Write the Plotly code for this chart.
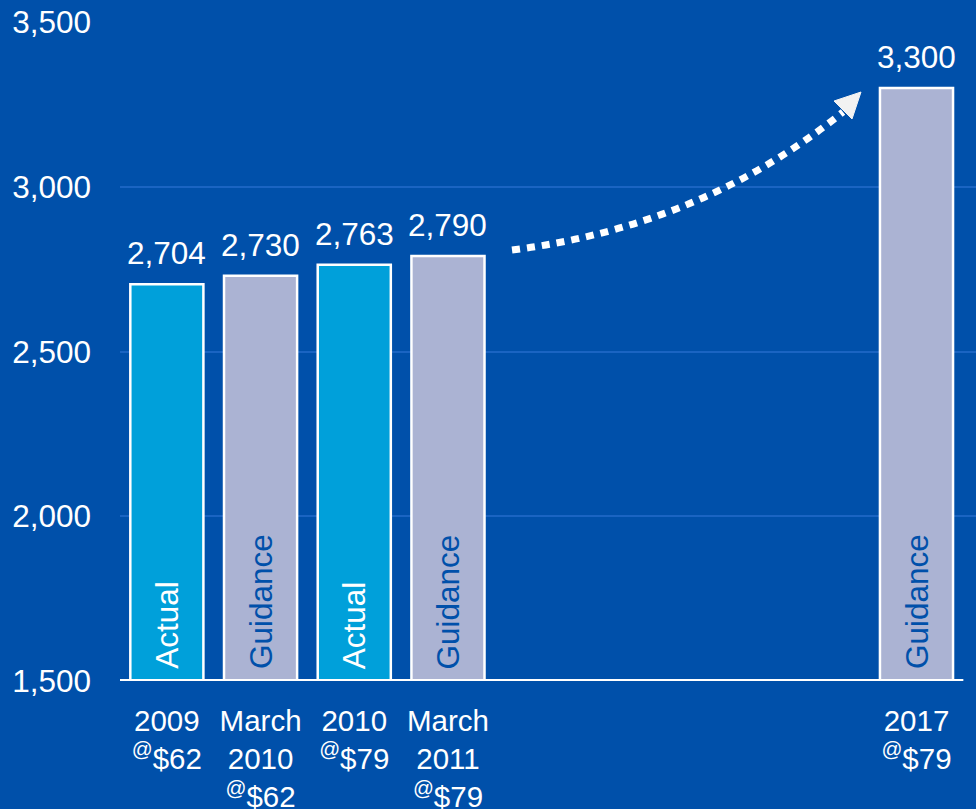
import plotly.graph_objects as go

categories = ["2009<br><sup>@</sup>$62", "March<br>2010<br><sup>@</sup>$62",
              "2010<br><sup>@</sup>$79", "March<br>2011<br><sup>@</sup>$79",
              "2017<br><sup>@</sup>$79"]
positions = [0, 1, 2, 3, 8]
values = [2704, 2730, 2763, 2790, 3300]
value_labels = ["2,704", "2,730", "2,763", "2,790", "3,300"]
kinds = ["Actual", "Guidance", "Actual", "Guidance", "Guidance"]
y_ticks = [1500, 2000, 2500, 3000, 3500]
y_tick_labels = ["1,500", "2,000", "2,500", "3,000", "3,500"]

BG = "#0050AA"
GRID = "#1A64C2"
ACTUAL = "#00A0DA"
GUIDE = "#ABB3D3"
FONT = "Liberation Sans, Arial, sans-serif"
FS = 31.5

W, H = 976, 809
L, R, T, B = 120, 0, 22, 128
XR = [-0.5, 8.635]
YR = [1500, 3500]

def px2x(px):
    return XR[0] + (px - L) / (W - L - R) * (XR[1] - XR[0])

def py2y(py):
    return YR[0] + (H - B - py) / (H - T - B) * (YR[1] - YR[0])

colors = [ACTUAL if k == "Actual" else GUIDE for k in kinds]

fig = go.Figure()
fig.add_trace(go.Bar(
    x=positions, y=values, width=0.78,
    marker=dict(color=colors, line=dict(color="white", width=2.5)),
    hoverinfo="skip",
))

annotations = []
for p, v, lab, k in zip(positions, values, value_labels, kinds):
    annotations.append(dict(x=p, y=v, text=lab, showarrow=False, xref="x", yref="y",
                            yanchor="bottom", yshift=11,
                            font=dict(family=FONT, size=FS, color="white")))
    annotations.append(dict(x=p, y=YR[0], text=k, showarrow=False, xref="x", yref="y",
                            textangle=-90, yanchor="bottom", yshift=10,
                            font=dict(family=FONT, size=FS,
                                      color="white" if k == "Actual" else BG)))

# dotted curved arrow from the March 2011 bar towards the 2017 bar
p0 = (px2x(512), py2y(250))
c = (px2x(702), py2y(226))
p2 = (px2x(843), py2y(112))
shapes = [
    dict(type="path", xref="x", yref="y",
         path=f"M {p0[0]},{p0[1]} Q {c[0]},{c[1]} {p2[0]},{p2[1]}",
         line=dict(color="white", width=7, dash="8px,7px"), layer="above"),
    dict(type="path", xref="x", yref="y",
         path=(f"M {px2x(861)},{py2y(92)} L {px2x(834)},{py2y(101)} "
               f"L {px2x(852)},{py2y(119)} Z"),
         fillcolor="#F2F2F2", line=dict(color="#F2F2F2", width=1), layer="above"),
    dict(type="line", xref="x", yref="y", x0=-0.5, x1=8.5, y0=YR[0], y1=YR[0],
         line=dict(color="white", width=4), layer="above"),
]

fig.update_layout(
    width=W, height=H,
    margin=dict(l=L, r=R, t=T, b=B),
    paper_bgcolor=BG, plot_bgcolor=BG,
    showlegend=False, hovermode=False,
    font=dict(family=FONT, size=FS, color="white"),
    annotations=annotations, shapes=shapes,
    bargap=0.2,
)
fig.update_xaxes(range=XR, tickvals=positions, ticktext=categories,
                 showgrid=False, zeroline=False, showline=False, ticks="",
                 ticklabelstandoff=19, automargin=False,
                 tickfont=dict(family=FONT, size=29.5, color="white"), fixedrange=True)
fig.update_yaxes(range=YR, tickvals=y_ticks, ticktext=y_tick_labels,
                 showgrid=True, gridcolor=GRID, gridwidth=2, zeroline=False,
                 showline=False, ticks="", ticklabelstandoff=28, automargin=False,
                 tickfont=dict(family=FONT, size=FS, color="white"), fixedrange=True)

fig.write_html("out.html", config={"displayModeBar": False},
               post_script="document.body.style.margin='0';document.body.style.background='" + BG + "';")
